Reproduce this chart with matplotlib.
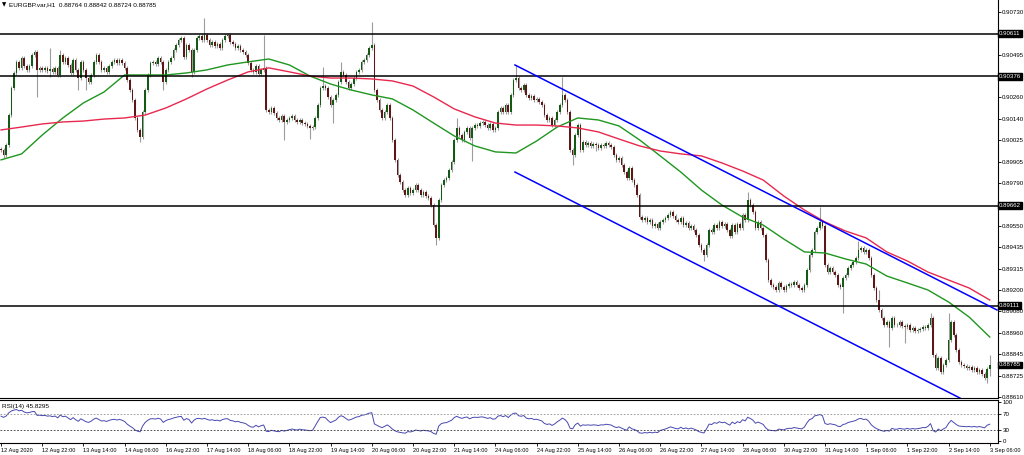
import numpy as np
import matplotlib
matplotlib.use("Agg")
import matplotlib.pyplot as plt
from matplotlib.transforms import blended_transform_factory

plt.rcParams['font.family'] = ['Liberation Sans', 'DejaVu Sans']

# EURGBP H1 closes, 12 Aug 06:00 .. 3 Sep 06:00 (385 bars)
first_open = 0.89975
closes = [
    0.89970, 0.89942, 0.89997, 0.90162, 0.90311, 0.90394, 0.90455, 0.90422, 0.90477, 0.90433,
    0.90411, 0.90433, 0.90493, 0.90510, 0.90411, 0.90422, 0.90411, 0.90422, 0.90405, 0.90416,
    0.90400, 0.90422, 0.90383, 0.90493, 0.90455, 0.90477, 0.90438, 0.90394, 0.90466, 0.90411,
    0.90366, 0.90455, 0.90411, 0.90366, 0.90344, 0.90383, 0.90455, 0.90493, 0.90455, 0.90411,
    0.90422, 0.90400, 0.90433, 0.90455, 0.90466, 0.90449, 0.90466, 0.90449, 0.90422, 0.90355,
    0.90300, 0.90245, 0.90146, 0.90080, 0.90041, 0.90179, 0.90300, 0.90383, 0.90449, 0.90455,
    0.90444, 0.90477, 0.90455, 0.90344, 0.90411, 0.90455, 0.90477, 0.90521, 0.90548, 0.90576,
    0.90587, 0.90482, 0.90548, 0.90521, 0.90400, 0.90521, 0.90587, 0.90598,
    0.90576, 0.90603, 0.90576, 0.90548, 0.90565, 0.90543, 0.90554, 0.90532, 0.90576, 0.90598,
    0.90603, 0.90565, 0.90554, 0.90532, 0.90543, 0.90521, 0.90510, 0.90493, 0.90449, 0.90411,
    0.90400, 0.90433, 0.90389, 0.90411, 0.90422, 0.90190, 0.90179, 0.90201, 0.90174, 0.90146,
    0.90135, 0.90157, 0.90124, 0.90135, 0.90146, 0.90157, 0.90135, 0.90124, 0.90135, 0.90118,
    0.90113, 0.90102, 0.90091, 0.90096, 0.90146, 0.90218, 0.90311, 0.90322, 0.90311, 0.90262,
    0.90218, 0.90245, 0.90273, 0.90344, 0.90400, 0.90383, 0.90344, 0.90311, 0.90333, 0.90366,
    0.90400, 0.90411, 0.90455, 0.90466, 0.90493, 0.90532, 0.90548, 0.90300, 0.90245, 0.90190,
    0.90146, 0.90179, 0.90218, 0.90146, 0.90025, 0.89915, 0.89832, 0.89793,
    0.89749, 0.89722, 0.89760, 0.89733, 0.89749, 0.89777, 0.89749, 0.89722, 0.89738, 0.89716,
    0.89705, 0.89666, 0.89556, 0.89485, 0.89694, 0.89777, 0.89804, 0.89815, 0.89859, 0.89904,
    0.90025, 0.90091, 0.90052, 0.90025, 0.90069, 0.90091, 0.90036, 0.90091, 0.90107, 0.90102,
    0.90118, 0.90124, 0.90107, 0.90091, 0.90113, 0.90080, 0.90091, 0.90179, 0.90201, 0.90179,
    0.90218, 0.90179, 0.90273, 0.90355, 0.90366, 0.90311, 0.90300, 0.90328, 0.90273, 0.90256,
    0.90267, 0.90245, 0.90251, 0.90234, 0.90218, 0.90162, 0.90135, 0.90146, 0.90107, 0.90135,
    0.90179, 0.90218, 0.90273, 0.90245, 0.90179, 0.89970, 0.89942, 0.90052, 0.90107, 0.89970,
    0.90014, 0.89997, 0.90008, 0.89992, 0.90003, 0.89997, 0.89981,
    0.89997, 0.89992, 0.90008, 0.89997, 0.89986, 0.89942, 0.89915, 0.89926, 0.89887, 0.89848,
    0.89815, 0.89871, 0.89804, 0.89777, 0.89722, 0.89600, 0.89584, 0.89595, 0.89573, 0.89584,
    0.89551, 0.89562, 0.89540, 0.89573, 0.89584, 0.89595, 0.89611, 0.89628, 0.89606, 0.89584,
    0.89573, 0.89595, 0.89556, 0.89567, 0.89540, 0.89551, 0.89529, 0.89501, 0.89446, 0.89419,
    0.89391, 0.89446, 0.89529, 0.89518, 0.89556, 0.89540, 0.89573, 0.89551, 0.89562, 0.89529,
    0.89496, 0.89556, 0.89518, 0.89562, 0.89540, 0.89611, 0.89584, 0.89694, 0.89666, 0.89628,
    0.89540, 0.89573, 0.89540, 0.89501, 0.89364, 0.89253, 0.89226, 0.89215, 0.89198, 0.89237,
    0.89215, 0.89198, 0.89220, 0.89231, 0.89226, 0.89242, 0.89226, 0.89209,
    0.89198, 0.89226, 0.89308, 0.89391, 0.89419, 0.89518, 0.89540, 0.89573, 0.89551, 0.89336,
    0.89297, 0.89319, 0.89297, 0.89281, 0.89226, 0.89215, 0.89264, 0.89281, 0.89319, 0.89336,
    0.89353, 0.89374, 0.89419, 0.89430, 0.89408, 0.89419, 0.89374, 0.89281, 0.89209, 0.89143,
    0.89088, 0.89044, 0.89005, 0.89022, 0.88988, 0.89044, 0.89005, 0.89005, 0.89022, 0.88999,
    0.88993, 0.89005, 0.88977, 0.88988, 0.88972, 0.88977, 0.88983, 0.88993, 0.88988, 0.89005,
    0.89044, 0.88840, 0.88768, 0.88824, 0.88746, 0.88785, 0.88813, 0.88923, 0.89022, 0.88950,
    0.88868, 0.88801, 0.88785, 0.88779, 0.88768, 0.88774, 0.88757, 0.88768, 0.88746, 0.88757,
    0.88735, 0.88713, 0.88764, 0.88785,
]

# bars with long wicks (bar index -> price)
high_spikes = {13: 0.90521, 19: 0.90532, 23: 0.90521, 79: 0.90697, 102: 0.90603,
               125: 0.90427, 132: 0.90455, 144: 0.90675, 177: 0.90146, 200: 0.90438,
               218: 0.90372, 290: 0.89738, 318: 0.89656, 333: 0.89468, 341: 0.89198,
               361: 0.89071, 368: 0.89071, 384: 0.88842}
low_spikes = {1: 0.89926, 14: 0.90262, 19: 0.90372, 30: 0.90300, 33: 0.90300,
              54: 0.90014, 63: 0.90300, 74: 0.90372, 110: 0.90025, 120: 0.90030,
              129: 0.90118, 169: 0.89446, 183: 0.89909, 222: 0.89887, 231: 0.89964,
              273: 0.89358, 327: 0.89071, 345: 0.88884, 351: 0.88906, 383: 0.88685,
              384: 0.88724}
wick = 0.00012

# moving averages read every 8 bars
ma_step = 8
ma_green = [0.89915, 0.89948, 0.90052, 0.90146, 0.90229, 0.90289, 0.90383, 0.90383,
            0.90383, 0.90394, 0.90411, 0.90438, 0.90455, 0.90471, 0.90438, 0.90377,
            0.90333, 0.90300, 0.90273, 0.90251, 0.90190, 0.90118, 0.90047, 0.89992,
            0.89959, 0.89953, 0.90019, 0.90096, 0.90146, 0.90135, 0.90102, 0.90025,
            0.89937, 0.89848, 0.89749, 0.89666, 0.89600, 0.89556, 0.89479, 0.89408,
            0.89402, 0.89369, 0.89341, 0.89275, 0.89237, 0.89198, 0.89132, 0.89049,
            0.88939]
ma_red = [0.90080, 0.90096, 0.90113, 0.90124, 0.90129, 0.90140, 0.90146, 0.90162,
          0.90201, 0.90251, 0.90306, 0.90355, 0.90400, 0.90422, 0.90400, 0.90377,
          0.90366, 0.90366, 0.90361, 0.90350, 0.90322, 0.90262, 0.90196, 0.90152,
          0.90118, 0.90107, 0.90107, 0.90102, 0.90091, 0.90069, 0.90030, 0.89992,
          0.89964, 0.89948, 0.89937, 0.89898, 0.89854, 0.89804, 0.89716, 0.89639,
          0.89573, 0.89523, 0.89485, 0.89408, 0.89358, 0.89297, 0.89253, 0.89209,
          0.89143]

levels = [0.90611, 0.90376, 0.89662, 0.89111]
current_price = 0.88785
chan_up_x = [199.6, 386.8]
chan_up_y = [0.90438, 0.89088]
chan_dn_x = [199.6, 372.4]
chan_dn_y = [0.89848, 0.88603]

# RSI state carried in from before the first visible bar
rsi_seed_gain = 0.00030
rsi_seed_loss = 0.00016

price_ticks = [0.90730, 0.90495, 0.90260, 0.90140, 0.90025, 0.89905, 0.89790, 0.89550,
               0.89435, 0.89315, 0.89200, 0.89080, 0.88960, 0.88845, 0.88725, 0.88610]
time_labels = ["12 Aug 2020", "12 Aug 22:00", "13 Aug 14:00", "14 Aug 06:00", "16 Aug 22:00",
               "17 Aug 14:00", "18 Aug 06:00", "18 Aug 22:00", "19 Aug 14:00", "20 Aug 06:00",
               "20 Aug 22:00", "21 Aug 14:00", "24 Aug 06:00", "24 Aug 22:00", "25 Aug 14:00",
               "26 Aug 06:00", "26 Aug 22:00", "27 Aug 14:00", "28 Aug 06:00", "30 Aug 22:00",
               "31 Aug 14:00", "1 Sep 06:00", "1 Sep 22:00", "2 Sep 14:00", "3 Sep 06:00"]

c = np.array(closes)
o = np.concatenate(([first_open], c[:-1]))
h = np.maximum(o, c) + wick
l = np.minimum(o, c) - wick
for k, v in high_spikes.items():
    h[k] = v
for k, v in low_spikes.items():
    l[k] = v
idx = np.arange(len(c))

# RSI(14), Wilder smoothing
d = c - o
ag, al = rsi_seed_gain, rsi_seed_loss
rsi = np.zeros(len(c))
for k in range(len(c)):
    ag = (ag * 13 + max(d[k], 0.0)) / 14
    al = (al * 13 + max(-d[k], 0.0)) / 14
    rsi[k] = 100 - 100 / (1 + ag / al)

fig = plt.figure(figsize=(10.24, 4.55), dpi=100)
W, H = 1024, 455
ax = fig.add_axes([0, (H - 398) / H, 998 / W, 398 / H])
ax2 = fig.add_axes([0, (H - 443) / H, 998 / W, 43 / H])

xmin, xmax = -0.4, 387.2

# candles
ax.vlines(idx, l, h, color="#9c9c9c", lw=0.8, zorder=2)
up = c >= o
body_h = np.maximum(np.abs(c - o), 0.00002)
ax.bar(idx[up], body_h[up], bottom=np.minimum(o, c)[up], width=0.62,
       color="#145a14", zorder=3)
ax.bar(idx[~up], body_h[~up], bottom=np.minimum(o, c)[~up], width=0.62,
       color="#5e1616", zorder=3)

ma_x = np.arange(0, len(c), ma_step)
ax.plot(ma_x, ma_green, color="#1f961f", lw=1.0, zorder=4)
ax.plot(ma_x, ma_red, color="#e8284e", lw=1.0, zorder=4)

for lv in levels:
    ax.axhline(lv, color="black", lw=1.1, zorder=5)
ax.plot(chan_up_x, chan_up_y, color="#0000ff", lw=1.1, zorder=5)
ax.plot(chan_dn_x, chan_dn_y, color="#0000ff", lw=1.1, zorder=5)

ax.set_xlim(xmin, xmax)
ax.set_ylim(0.88603, 0.90796)
ax.set_xticks([])
ax.yaxis.tick_right()
ax.set_yticks(price_ticks)
ax.set_yticklabels([f"{v:.5f}" for v in price_ticks])
ax.tick_params(axis="y", length=2, width=0.6, pad=1, labelsize=4.4, colors="black")
for s in ["top", "left"]:
    ax.spines[s].set_visible(False)
ax.spines["right"].set_linewidth(0.8)
ax.spines["bottom"].set_linewidth(0.8)

tr = blended_transform_factory(ax.transAxes, ax.transData)
for lv in levels + [current_price]:
    ax.text(1.0012, lv, f"{lv:.5f}", transform=tr, ha="left", va="center",
            fontsize=4.4, color="white", zorder=10,
            bbox=dict(facecolor="black", edgecolor="black", pad=0.6))

ax.text(0.002, 0.989, "\u25bc", transform=ax.transAxes, fontsize=4,
        ha="left", va="center", family=["DejaVu Sans"])
ax.text(0.009, 0.989, "EURGBP.var,H1  0.88764 0.88842 0.88724 0.88785",
        transform=ax.transAxes, fontsize=4.6, ha="left", va="center")

# RSI panel
ax2.plot(idx, rsi, color="#4848b0", lw=0.7)
ax2.axhline(70, color="#909090", lw=0.6, ls=(0, (2, 2)))
ax2.axhline(30, color="#303030", lw=0.6, ls=(0, (2, 2)))
ax2.set_xlim(xmin, xmax)
ax2.set_ylim(-4, 106)
ax2.yaxis.tick_right()
ax2.set_yticks([100, 70, 30, 0])
ax2.set_yticklabels(["100", "70", "30", "0"])
ax2.tick_params(axis="y", length=2, width=0.6, pad=1.5, labelsize=4.4)
ax2.set_xticks(np.arange(0, len(c), 16))
ax2.set_xticklabels(time_labels, ha="left")
ax2.tick_params(axis="x", length=2.5, width=0.6, pad=1, labelsize=4.1)
ax2.spines["left"].set_visible(False)
for s in ["top", "right", "bottom"]:
    ax2.spines[s].set_linewidth(0.8)
ax2.text(0.002, 0.86, "RSI(14) 45.8295", transform=ax2.transAxes, fontsize=4.6,
         ha="left", va="center")

fig.savefig("out.png", dpi=100)
